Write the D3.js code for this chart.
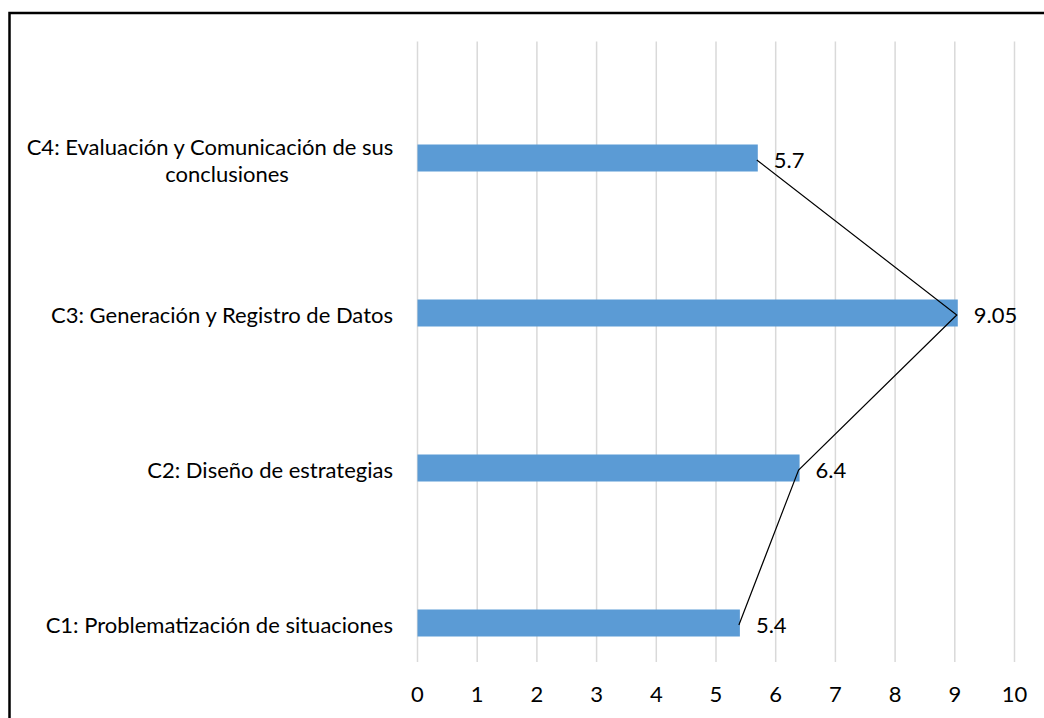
<!DOCTYPE html>
<html>
<head>
<meta charset="utf-8">
<script src="https://cdn.jsdelivr.net/npm/d3@7"></script>
<style>
  html, body { margin: 0; padding: 0; background: #fff; }
  svg { display: block; }
  text { font-family: Lato, "Liberation Sans", sans-serif; fill: #000; }
</style>
</head>
<body>
<svg id="chart" width="1044" height="718"></svg>
<script>
const categories = ["C1: Problematización de situaciones", "C2: Diseño de estrategias", "C3: Generación y Registro de Datos", "C4: Evaluación y Comunicación de sus conclusiones"];
const labelLines = [["C1: Problematización de situaciones"], ["C2: Diseño de estrategias"], ["C3: Generación y Registro de Datos"], ["C4: Evaluación y Comunicación de sus", "conclusiones"]];
const values = [5.4, 6.4, 9.05, 5.7];
const valueLabels = ["5.4", "6.4", "9.05", "5.7"];
const xTicks = [0, 1, 2, 3, 4, 5, 6, 7, 8, 9, 10];

const svg = d3.select("#chart");
const fontSize = 22;

// outer frame
svg.append("rect").attr("x", 9.5).attr("y", 13).attr("width", 1044).attr("height", 720)
  .attr("fill", "none").attr("stroke", "#000").attr("stroke-width", 2.5);

const x = d3.scaleLinear().domain([0, 10]).range([417.5, 1014.5]);
const y = d3.scaleBand().domain(categories).range([700.5, 80.5]);
const barH = 27;

// gridlines
svg.append("g").selectAll("line").data(xTicks).join("line")
  .attr("x1", d => x(d)).attr("x2", d => x(d))
  .attr("y1", 41.5).attr("y2", 662)
  .attr("stroke", "#D9D9D9").attr("stroke-width", 1.5);

// x axis tick labels
svg.append("g").selectAll("text").data(xTicks).join("text")
  .attr("x", d => x(d)).attr("y", 693)
  .attr("text-anchor", "middle").attr("dominant-baseline", "central")
  .style("font-size", fontSize + "px")
  .text(d => d);

const data = categories.map((c, i) => ({ c, v: values[i], lbl: valueLabels[i], lines: labelLines[i] }));
const cy = d => y(d.c) + y.bandwidth() / 2;

// bars
svg.append("g").selectAll("rect").data(data).join("rect")
  .attr("x", x(0)).attr("y", d => cy(d) - barH / 2)
  .attr("width", d => x(d.v) - x(0)).attr("height", barH)
  .attr("fill", "#5B9BD5");

// connecting line
const line = d3.line().x(d => x(d.v) - 1).y(d => cy(d) + 2);
svg.append("path").datum(data).attr("d", line)
  .attr("fill", "none").attr("stroke", "#000").attr("stroke-width", 1.2);

// value labels
svg.append("g").selectAll("text").data(data).join("text")
  .attr("x", d => x(d.v) + 16).attr("y", d => cy(d) + 1)
  .attr("dominant-baseline", "central")
  .style("font-size", fontSize + "px")
  .text(d => d.lbl);

// category labels
const catG = svg.append("g");
data.forEach(d => {
  if (d.lines.length === 1) {
    catG.append("text").attr("x", 393).attr("y", cy(d) + 1)
      .attr("text-anchor", "end").attr("dominant-baseline", "central")
      .style("font-size", fontSize + "px").text(d.lines[0]);
  } else {
    catG.append("text").attr("x", 210).attr("y", cy(d) - 12)
      .attr("text-anchor", "middle").attr("dominant-baseline", "central")
      .style("font-size", fontSize + "px").text(d.lines[0]);
    catG.append("text").attr("x", 227).attr("y", cy(d) + 15)
      .attr("text-anchor", "middle").attr("dominant-baseline", "central")
      .style("font-size", fontSize + "px").text(d.lines[1]);
  }
});
</script>
</body>
</html>
